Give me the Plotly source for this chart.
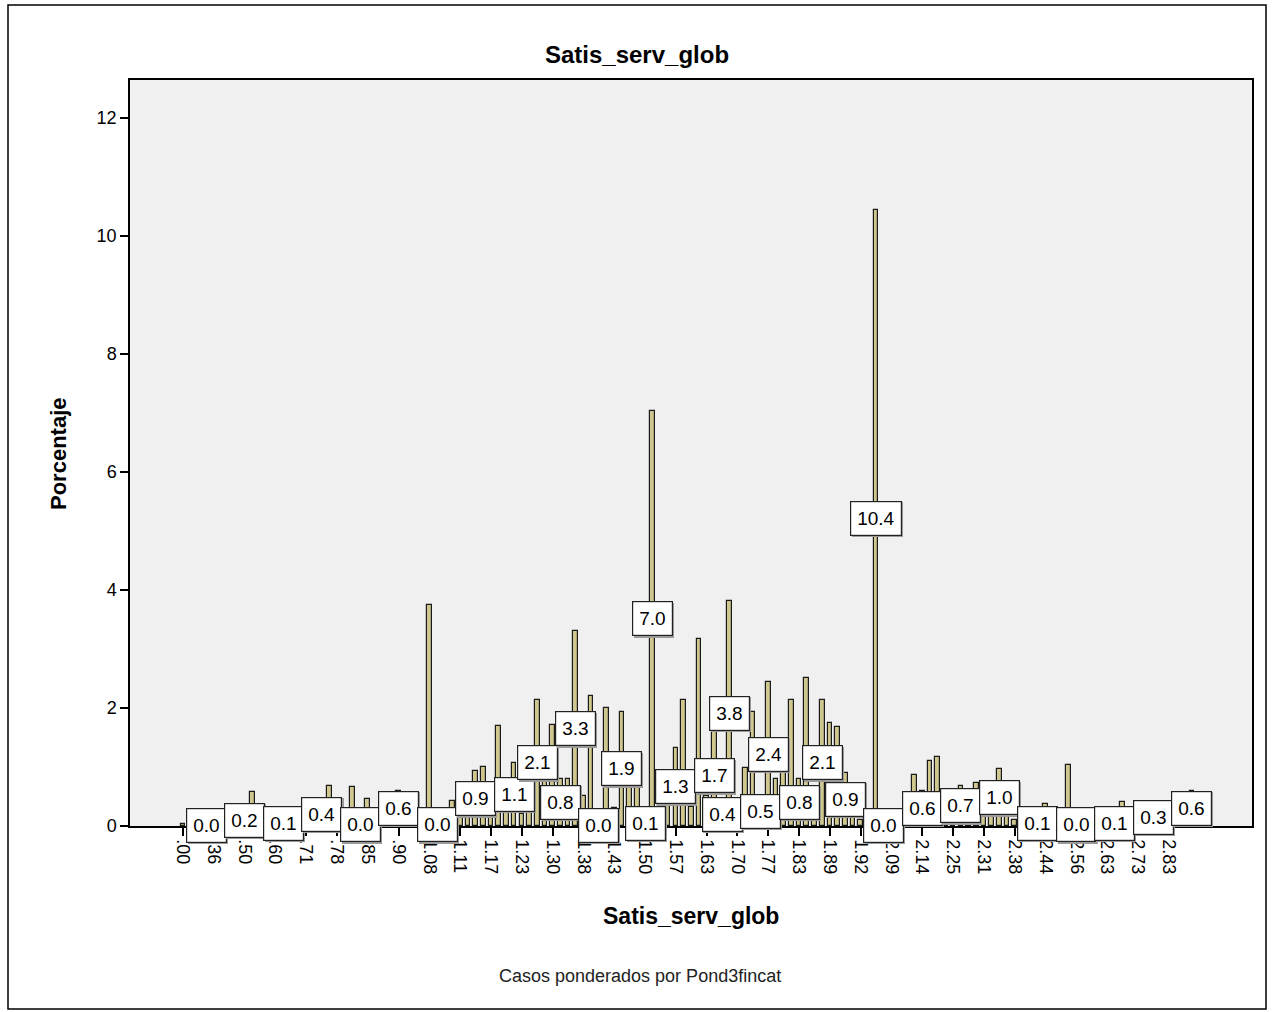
import plotly.graph_objects as go

# ---- data ----
tick_labels = [".00", ".36", ".50", ".60", ".71", ".78", ".85", ".90", "1.08", "1.11",
               "1.17", "1.23", "1.30", "1.38", "1.43", "1.50", "1.57", "1.63", "1.70",
               "1.77", "1.83", "1.89", "1.92", "2.09", "2.14", "2.25", "2.31", "2.38",
               "2.44", "2.56", "2.63", "2.73", "2.83"]

values = [
    0.03, 0.02, 0.01, 0.03, 0.02, 0.05, 0.10, 0.08, 0.20, 0.57,   # 0-9
    0.10, 0.05, 0.10, 0.10, 0.10, 0.05, 0.15, 0.20, 0.40, 0.68,   # 10-19
    0.15, 0.20, 0.66, 0.04, 0.46, 0.10, 0.20, 0.30, 0.60, 0.10,   # 20-29
    0.05, 0.10, 3.74, 0.04, 0.20, 0.43, 0.20, 0.20, 0.93, 1.00,   # 30-39
    0.20, 1.70, 0.30, 1.07, 0.20, 0.30, 2.14, 0.80, 1.71, 0.80,   # 40-49
    0.80, 3.30, 0.50, 2.20, 0.03, 2.00, 0.30, 1.94, 0.67, 0.67,   # 50-59
    0.10, 7.03, 0.40, 0.40, 1.33, 2.14, 0.33, 3.17, 0.50, 1.70,   # 60-69
    0.40, 3.82, 0.30, 0.98, 1.94, 0.50, 2.44, 0.80, 0.92, 2.14,   # 70-79
    0.80, 2.51, 0.20, 2.14, 1.75, 1.68, 0.90, 0.20, 0.10, 0.05,   # 80-89
    10.43, 0.03, 0.05, 0.10, 0.20, 0.86, 0.60, 1.10, 1.17, 0.10,  # 90-99
    0.20, 0.68, 0.20, 0.73, 0.20, 0.15, 0.96, 0.20, 0.10, 0.05,   # 100-109
    0.10, 0.10, 0.38, 0.05, 0.10, 1.03, 0.04, 0.05, 0.02, 0.03,   # 110-119
    0.05, 0.10, 0.40, 0.05, 0.10, 0.05, 0.30, 0.05, 0.10, 0.05,   # 120-129
    0.10, 0.60,                                                   # 130-131
]

labeled_idx = [3, 8, 13, 18, 23, 28, 33, 38, 43, 46, 49, 51, 54, 57, 60, 61, 64,
               69, 70, 71, 75, 76, 80, 83, 86, 90, 91, 96, 101, 106, 111, 116,
               121, 126, 131]

FONT = "Arial, Liberation Sans, sans-serif"

x_idx = list(range(len(values)))
tick_vals = list(range(0, 4 * len(tick_labels), 4))

fig = go.Figure()
fig.add_trace(go.Bar(
    x=x_idx, y=values, width=0.6,
    marker=dict(color="#d0c78f", line=dict(color="#1a1a1a", width=1.2)),
    hoverinfo="x+y",
))

annotations = []
for i in labeled_idx:
    v = values[i]
    # soft shadow behind the label box
    annotations.append(dict(
        x=i, y=v / 2, xref="x", yref="y", text=f"{v:.1f}", showarrow=False,
        font=dict(family=FONT, size=19, color="rgba(0,0,0,0)"),
        bgcolor="#9a9a9a", bordercolor="#9a9a9a", borderwidth=1, borderpad=6,
        xanchor="center", yanchor="middle", xshift=1.5, yshift=-1.5,
    ))
    annotations.append(dict(
        x=i, y=v / 2, xref="x", yref="y", text=f"{v:.1f}", showarrow=False,
        font=dict(family=FONT, size=19, color="black"),
        bgcolor="white", bordercolor="#222222", borderwidth=1.2, borderpad=6,
        xanchor="center", yanchor="middle",
    ))

L, R, T, B = 130, 1252, 80, 826
W, H = R - L, B - T

def px_x(px):
    return (px - L) / W

def px_y(py):
    return (B - py) / H

# axis titles and caption (positioned in pixels of the page)
annotations += [
    dict(text="<b>Satis_serv_glob</b>", x=px_x(691), y=px_y(916), xref="paper", yref="paper",
         xanchor="center", yanchor="middle",
         showarrow=False, font=dict(family=FONT, size=23, color="black")),
    dict(text="<b>Porcentaje</b>", x=px_x(58), y=px_y(453), xref="paper", yref="paper",
         xanchor="center", yanchor="middle",
         textangle=-90, showarrow=False, font=dict(family=FONT, size=22, color="black")),
    dict(text="Casos ponderados por Pond3fincat", x=px_x(640), y=px_y(976), xref="paper", yref="paper",
         xanchor="center", yanchor="middle",
         showarrow=False, font=dict(family=FONT, size=18, color="#222222")),
]

# outer frame
frame = dict(type="rect", xref="paper", yref="paper",
             x0=px_x(8), x1=px_x(1266), y0=px_y(1009), y1=px_y(5),
             line=dict(color="black", width=1.5), fillcolor="rgba(0,0,0,0)", layer="below")

fig.update_layout(
    width=1274, height=1012,
    margin=dict(l=L, r=1274 - R, t=T, b=1012 - B),
    paper_bgcolor="white", plot_bgcolor="#f0f0f0",
    showlegend=False,
    title=dict(text="<b>Satis_serv_glob</b>", x=0.5, xref="container",
               y=1 - 55 / 1012, yref="container", yanchor="middle",
               font=dict(family=FONT, size=24, color="black")),
    font=dict(family=FONT, size=16, color="black"),
    annotations=annotations,
    shapes=[frame],
    bargap=0,
)

fig.update_xaxes(
    range=[-6.87, 138.8], tickmode="array", tickvals=tick_vals, ticktext=tick_labels,
    tickangle=90, ticks="outside", ticklen=8, tickcolor="black", tickwidth=1.5,
    tickfont=dict(family=FONT, size=18, color="black"),
    showline=True, linecolor="black", linewidth=1.5, mirror=True,
    showgrid=False, zeroline=False,
)
fig.update_yaxes(
    range=[0, 12.64], tickmode="array", tickvals=[0, 2, 4, 6, 8, 10, 12],
    ticks="outside", ticklen=8, tickcolor="black", tickwidth=2,
    tickfont=dict(family=FONT, size=18, color="black"),
    showline=True, linecolor="black", linewidth=1.5, mirror=True,
    showgrid=False, zeroline=False,
)

fig.write_html("out.html")
